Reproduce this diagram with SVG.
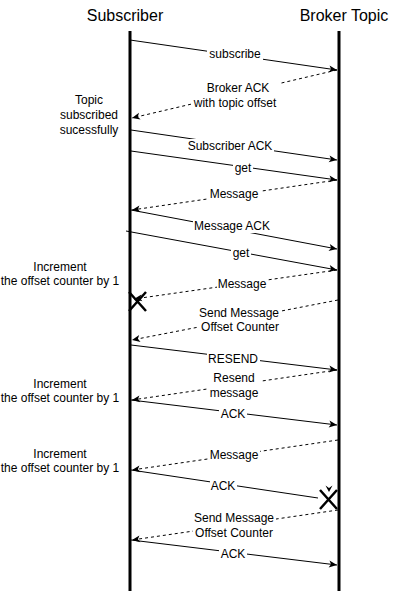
<svg xmlns="http://www.w3.org/2000/svg" width="400" height="593" viewBox="0 0 400 593">
<style>
.life{stroke:#000;stroke-width:3;fill:none}
.hdr{font-family:"Liberation Sans",Arial,sans-serif;font-size:16px;text-anchor:middle;fill:#000}
.msg{stroke:#000;stroke-width:1;fill:none;marker-end:url(#arr)}
.dash{stroke-dasharray:3 3}
.bg{fill:#fff}
.lbl{font-family:"Liberation Sans",Arial,sans-serif;font-size:12px;text-anchor:middle;dominant-baseline:central;fill:#000}
.x{stroke:#000;stroke-width:2.5;fill:none}
</style>
<defs>
<marker id="arr" viewBox="0 0 10 8" refX="9" refY="4" markerWidth="10" markerHeight="8" markerUnits="userSpaceOnUse" orient="auto">
<path d="M1,0.5 L9,4 L1,7.5 L3,4 Z" fill="#000"/>
</marker>
</defs>
<rect width="400" height="593" fill="#fff"/>

<g id="subscriber">
<text class="hdr" x="125" y="21">Subscriber</text>
<line class="life" x1="130" y1="31" x2="130" y2="591"/>
</g>
<g id="broker">
<text class="hdr" x="344" y="21">Broker Topic</text>
<line class="life" x1="339" y1="31" x2="339" y2="591"/>
</g>

<g id="notes">
<text class="lbl" x="89" y="100">Topic</text>
<text class="lbl" x="89" y="115">subscribed</text>
<text class="lbl" x="89" y="130">sucessfully</text>
<text class="lbl" x="60" y="267">Increment</text>
<text class="lbl" x="60" y="281">the offset counter by 1</text>
<text class="lbl" x="60" y="384">Increment</text>
<text class="lbl" x="60" y="398">the offset counter by 1</text>
<text class="lbl" x="60" y="454">Increment</text>
<text class="lbl" x="60" y="468">the offset counter by 1</text>
</g>

<g id="connectors">
<path class="msg" d="M130,40 L337,70"/>
<rect class="bg" x="207" y="47" width="56" height="14"/>
<text class="lbl" x="235" y="54">subscribe</text>

<path class="msg dash" d="M337,70 L132,118"/>
<rect class="bg" x="193" y="81" width="88" height="29"/>
<text class="lbl" x="238" y="88">Broker ACK</text>
<text class="lbl" x="235" y="103">with topic offset</text>

<path class="msg" d="M131,130 L337,160"/>
<rect class="bg" x="187" y="139" width="87" height="14"/>
<text class="lbl" x="230" y="146">Subscriber ACK</text>

<path class="msg" d="M131,151 L337,180"/>
<rect class="bg" x="233" y="161" width="20" height="14"/>
<text class="lbl" x="243" y="168">get</text>

<path class="msg dash" d="M337,180 L132,210"/>
<rect class="bg" x="209" y="187" width="51" height="14"/>
<text class="lbl" x="234" y="194">Message</text>

<path class="msg" d="M131,210 L337,249"/>
<rect class="bg" x="193" y="219" width="79" height="14"/>
<text class="lbl" x="232" y="226">Message ACK</text>

<path class="msg" d="M126,231 L337,270"/>
<rect class="bg" x="231" y="246" width="20" height="14"/>
<text class="lbl" x="241" y="253">get</text>

<path class="msg dash" d="M337,270 L134,299"/>
<rect class="bg" x="217" y="277" width="51" height="14"/>
<text class="lbl" x="242" y="284">Message</text>
<path class="x" d="M129,292 L146,311 M146,292 L129,311"/>

<path class="msg dash" d="M338,300 L132,340"/>
<rect class="bg" x="198" y="306" width="83" height="28"/>
<text class="lbl" x="239" y="313">Send Message</text>
<text class="lbl" x="240" y="327">Offset Counter</text>

<path class="msg" d="M131,345 L337,370"/>
<rect class="bg" x="207" y="352" width="53" height="14"/>
<text class="lbl" x="233" y="359">RESEND</text>

<path class="msg dash" d="M337,370 L132,400"/>
<rect class="bg" x="208" y="370" width="52" height="30"/>
<text class="lbl" x="234" y="378">Resend</text>
<text class="lbl" x="234" y="393">message</text>

<path class="msg" d="M131,400 L337,425"/>
<rect class="bg" x="219" y="407" width="28" height="14"/>
<text class="lbl" x="233" y="414">ACK</text>

<path class="msg dash" d="M338,440 L132,470"/>
<rect class="bg" x="209" y="448" width="51" height="14"/>
<text class="lbl" x="234" y="455">Message</text>

<path class="msg dash" d="M131,470 L318,498" style="stroke-dasharray:none;marker-end:none"/>
<rect class="bg" x="210" y="479" width="27" height="14"/>
<text class="lbl" x="223" y="486">ACK</text>
<path d="M325.5,485.5 L329,488 L332.5,485.5 L329,492 Z" fill="#000"/>
<path class="x" d="M320,490 L337,509 M337,490 L320,509"/>

<path class="msg dash" d="M338,510 L132,540"/>
<rect class="bg" x="193" y="511" width="83" height="29"/>
<text class="lbl" x="234" y="518">Send Message</text>
<text class="lbl" x="234" y="533">Offset Counter</text>

<path class="msg" d="M131,540 L337,565"/>
<rect class="bg" x="219" y="547" width="28" height="14"/>
<text class="lbl" x="233" y="554">ACK</text>
</g>
</svg>
